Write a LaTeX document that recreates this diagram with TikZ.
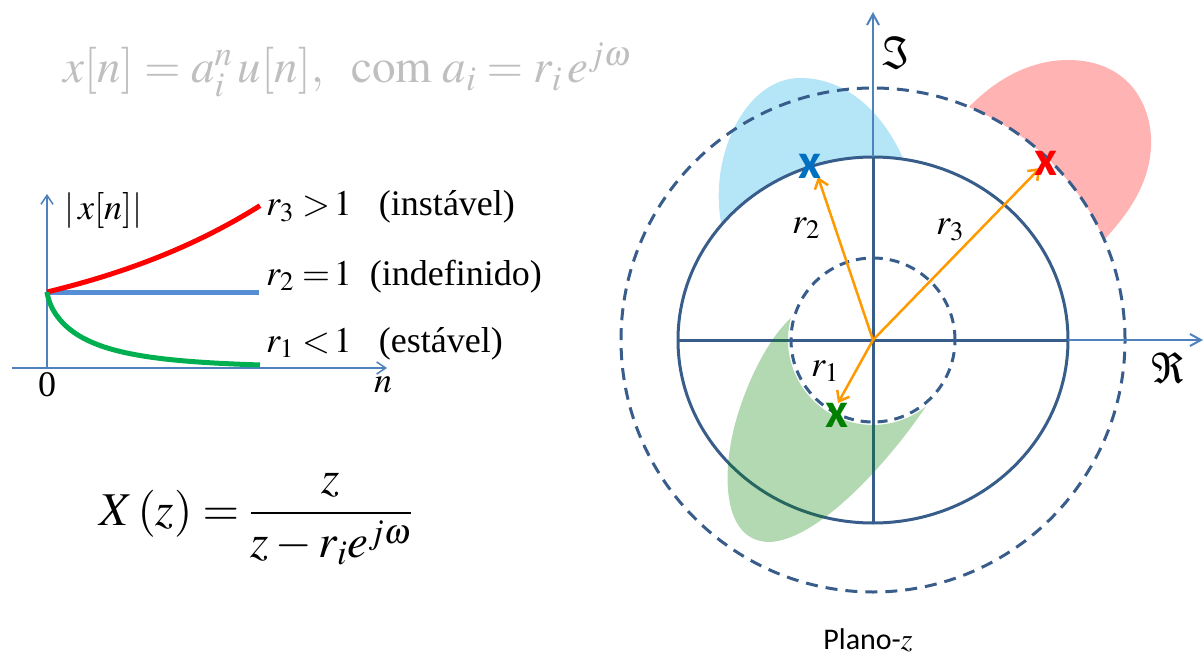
\documentclass[tikz,border=0pt]{standalone}
\usepackage{amsmath}
\usepackage{mathptmx}
\usepackage[no-math]{fontspec}
\setmainfont{Liberation Serif}
\newfontfamily\calibri{Carlito}
\usetikzlibrary{arrows.meta}
\definecolor{axisblue}{RGB}{79,129,189}
\definecolor{circblue}{RGB}{56,93,138}
\definecolor{arrorange}{RGB}{255,153,0}
\definecolor{xblue}{RGB}{0,112,192}
\definecolor{xgreen}{RGB}{0,128,0}
\definecolor{xred}{RGB}{255,0,0}
\definecolor{fillblue}{RGB}{180,230,248}
\definecolor{fillred}{RGB}{255,179,179}
\definecolor{fillgreen}{RGB}{0,128,0}
\definecolor{fgray}{RGB}{191,191,191}
\definecolor{curvered}{RGB}{255,0,0}
\definecolor{curveblue}{RGB}{85,142,213}
\definecolor{curvegreen}{RGB}{0,176,80}
\tikzset{
  gaxis/.style={draw=axisblue, line width=1.5, -{Straight Barb[length=9pt,width=12pt]}},
  zaxis/.style={draw=axisblue, line width=2, -{Straight Barb[length=11pt,width=12pt]}},
  zaxisdark/.style={draw=circblue, line width=3},
  circ/.style={draw=circblue, line width=3},
  dcirc/.style={circ, dash pattern=on 12pt off 8pt},
  dcircsmall/.style={circ, dash pattern=on 10pt off 7pt},
  curve/.style={line width=5},
  rarrow/.style={draw=arrorange, line width=2.5, -{Straight Barb[length=9pt,width=14pt]}},
  pole/.style={inner sep=0pt, font=\fontsize{50}{52}\selectfont\calibri\bfseries},
  lbl/.style={inner sep=0pt, font=\fontsize{36}{40}\selectfont},
}
\begin{document}
\begin{tikzpicture}[x=1pt,y=1pt]
\useasboundingbox (0,0) rectangle (1204,657);

% ---------- top formula ----------
\node[anchor=base west, inner sep=0pt, text=fgray, font=\fontsize{47}{50}\selectfont] (topf) at (63,574)
  {$x[n]=a_i^n\,u[n],\;\ \mathrm{com}\;a_i = r_i\, e^{j\omega}$};

% ---------- left graph ----------
\coordinate (gxs) at (12,289);
\coordinate (gxe) at (387,289);
\coordinate (gys) at (47,289);
\coordinate (gye) at (47,463);
\draw[gaxis] (gys) -- (gye);
\draw[gaxis] (gxs) -- (gxe);
\coordinate (g0) at (47,365);
\coordinate (gb) at (259,365);
\draw[curve, curveblue] (g0) -- (gb);
\draw[curve, curvered] plot[domain=47:260, samples=60] (\x,{365+53.7*(exp(0.0045*(\x-47))-1)});
\draw[curve, curvegreen] (g0) -- plot[domain=47.3:260, samples=100] (\x,{289+76*exp(-((\x-47)/40)^0.7)});

\node[lbl, anchor=base west] (l3) at (266,441) {$r_3 >\!1$\enspace\ (instável)};
\node[lbl, anchor=base west] (l2) at (266,372) {$r_2 =\!1$\enspace(indefinido)};
\node[lbl, anchor=base west] (l1) at (266,305) {$r_1 <\!1$\enspace\ (estável)};
\node[lbl, anchor=base west] (ly) at (64,437) {$|\,x[n]|$};
\node[lbl] (l0) at (47,272) {0};
\node[lbl] (ln) at (383,272) {$n$};

% ---------- bottom formula ----------
\node[anchor=base west, inner sep=0pt, font=\fontsize{47}{50}\selectfont] (Xz) at (99,132)
  {$X\,(z)=\dfrac{z}{z-r_i e^{j\omega}}$};

% ---------- z-plane ----------
\coordinate (O) at (873,317);
% blue region
\fill[fillblue] (721.5,432.2) .. controls (708,500) and (745,579) .. (800,579)
  .. controls (850,579) and (885,540) .. (903.5,497.7)
  arc[start angle=81, end angle=141, x radius=195, y radius=183] -- cycle;
% red region
\fill[fillred] (969,550) .. controls (1000,582) and (1035,597) .. (1068,597)
  .. controls (1130,597) and (1153,550) .. (1151,510)
  .. controls (1149,470) and (1125,440) .. (1104,417)
  arc[start angle=23.4, end angle=67.6, radius=252] -- cycle;

% circles
\draw[dcirc] (O) circle[radius=252];
\draw[circ] (O) ellipse[x radius=195, y radius=183];
\draw[dcircsmall] (O) circle[radius=82];

% axes
\coordinate (vb) at (873,134);
\coordinate (vt) at (873,500);
\coordinate (vtip) at (873,645);
\coordinate (hl) at (678,317);
\coordinate (hr) at (1068,317);
\coordinate (htip) at (1203,317);
\draw[zaxisdark] (vb) -- (vt);
\draw[zaxis] (vt) -- (vtip);
\draw[zaxisdark] (hl) -- (hr);
\draw[zaxis] (hr) -- (htip);

% green region (translucent, on top)
\fill[fillgreen, opacity=0.3] (925.9,250.5) .. controls (885,190) and (815,115) .. (768,115)
  .. controls (720,117) and (722,190) .. (737,240)
  .. controls (752,290) and (775,325) .. (790.9,339)
  arc[start angle=165, end angle=308.5, radius=85] -- cycle;

% radius arrows
\coordinate (t1) at (838,254);
\coordinate (t2) at (818,480);
\coordinate (t3) at (1040,489);
\draw[rarrow] (O) -- (t2);
\draw[rarrow] (O) -- (t3);
\draw[rarrow] (O) -- (t1);

% poles
\node[pole, text=xblue] (p2) at (810,491) {x};
\node[pole, text=xred] (p3) at (1046,494) {x};
\node[pole, text=xgreen] (p1) at (837,242) {x};

% labels
\node[lbl] (lr2) at (806,429) {$r_2$};
\node[lbl] (lr3) at (950,427) {$r_3$};
\node[lbl] (lr1) at (825,286) {$r_1$};
\node[inner sep=0pt, font=\fontsize{42}{44}\selectfont] (im) at (897,604) {$\Im$};
\node[inner sep=0pt, font=\fontsize{42}{44}\selectfont] (re) at (1168,289) {$\Re$};
\node[inner sep=0pt, font=\fontsize{30}{34}\selectfont] (plano) at (868,17) {{\calibri Plano-}$z$};
\end{tikzpicture}
\end{document}
